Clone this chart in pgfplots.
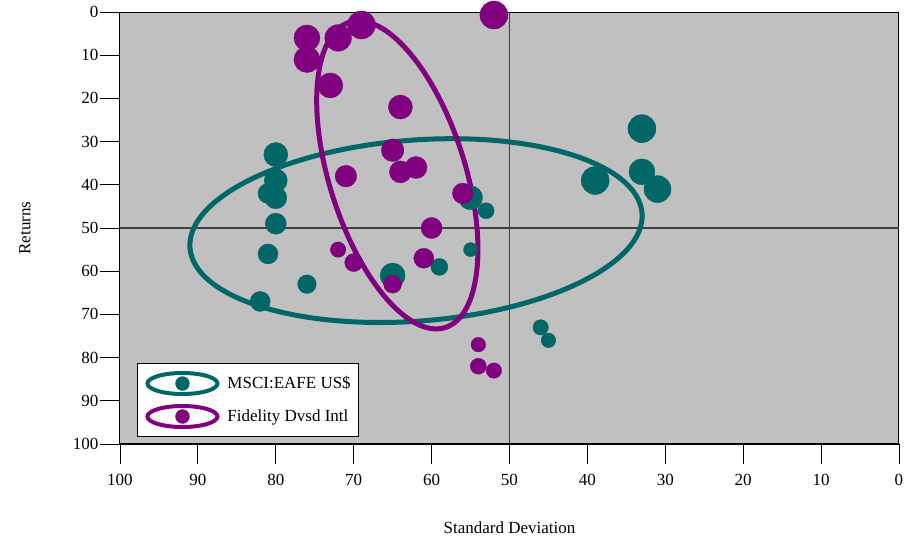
\documentclass[border=0pt]{standalone}
\usepackage{pgfplots}
\pgfplotsset{compat=1.18}
\usepackage{pgfplotstable}
\usepackage{fontspec}
\setmainfont{Liberation Serif}
\definecolor{tealc}{RGB}{0,102,102}
\definecolor{purplec}{RGB}{128,0,128}
\definecolor{bgc}{RGB}{192,192,192}
\definecolor{crossc}{RGB}{64,64,64}

\pgfplotstableread{
x y r
80 33 12
80 39 11.5
81 42 10
80 43 11
80 49 10.5
81 56 10
76 63 9.3
82 67 10
65 61 12.5
59 59 8.5
55 55 7
55 43 12
53 46 8
33 27 14
33 37 13
31 41 13.5
39 39 14
46 73 7.7
45 76 7.3
}\msci

\pgfplotstableread{
x y r
52 0.7 14
76 6 13
76 11 13
72 6 13.3
69 3 14
73 17 12.5
64 22 12
65 32 11.3
64 37 11
62 36 11
71 38 10.8
56 42 10.3
60 50 10.5
72 55 7.7
70 58 9
61 57 10
65 63 9
54 77 7.3
54 82 8
52 83 7.7
}\fid

\begin{document}
\begin{tikzpicture}[font=\fontsize{17}{20}\selectfont]
\path[use as bounding box] (-120pt,-95pt) rectangle (798pt,444pt);
\begin{axis}[
  at={(0pt,0pt)}, anchor=south west,
  scale only axis, width=779pt, height=432pt,
  x dir=reverse, y dir=reverse,
  xmin=0, xmax=100, ymin=0, ymax=100,
  xtick={0,10,...,100}, ytick={0,10,...,100},
  xtick pos=bottom, ytick pos=left,
  tick align=outside, major tick length=20pt,
  tick style={black, line width=0.8pt},
  axis line style={black, line width=1pt},
  axis background/.style={fill=bgc},
  /pgf/number format/assume math mode=true,
  tick label style={font=\fontsize{17}{20}\selectfont},
  xticklabel style={yshift=-7pt},
  yticklabel style={xshift=2pt},
  xlabel={Standard Deviation}, ylabel={Returns},
  xlabel style={at={(axis description cs:0.5,-0.194)}, anchor=center},
  ylabel style={at={(axis description cs:-0.122,0.5)}, anchor=center},
  clip=false,
  legend style={at={(axis description cs:0.0218,0.0162)}, anchor=south west,
    draw=black, line width=1pt, fill=white, inner xsep=8pt, inner ysep=7.5pt,
    row sep=8pt, column sep=8pt, cells={anchor=west}, nodes={inner sep=0pt},
    font=\fontsize{17}{20}\selectfont},
]
\addlegendimage{legend image code/.code={
  \draw[tealc, line width=4pt] (35pt,0pt) ellipse [x radius=35pt, y radius=10.5pt];
  \fill[tealc] (35pt,0pt) circle [radius=6.7pt];}}
\addlegendentry{MSCI:EAFE US\$}
\addlegendimage{legend image code/.code={
  \draw[purplec, line width=4pt] (35pt,0pt) ellipse [x radius=35pt, y radius=10.5pt];
  \fill[purplec] (35pt,0pt) circle [radius=6.7pt];}}
\addlegendentry{Fidelity Dvsd Intl}

\draw[crossc, line width=1.8pt] (axis cs:50,0) -- (axis cs:50,100);
\draw[crossc, line width=1.8pt] (axis cs:0,50) -- (axis cs:100,50);

\addplot[scatter, only marks, mark=*, forget plot,
  scatter/use mapped color={draw=tealc, fill=tealc},
  visualization depends on={\thisrow{r}\as\rr},
  scatter/@pre marker code/.append style={/tikz/mark size=\rr pt}]
  table[x=x, y=y, meta=r] {\msci};

\draw[tealc, line width=5pt] (axis cs:62,50.6) circle [x radius=226.7pt, y radius=90.5pt, rotate=4.4];

\addplot[scatter, only marks, mark=*, forget plot,
  scatter/use mapped color={draw=purplec, fill=purplec},
  visualization depends on={\thisrow{r}\as\rr},
  scatter/@pre marker code/.append style={/tikz/mark size=\rr pt}]
  table[x=x, y=y, meta=r] {\fid};

\draw[purplec, line width=5pt] (axis cs:64.4,37.7) circle [x radius=160pt, y radius=68pt, rotate=-72.6];

\draw[black, line width=2.5pt] (axis cs:100,100) -- (axis cs:0,100);
\end{axis}
\end{tikzpicture}
\end{document}
